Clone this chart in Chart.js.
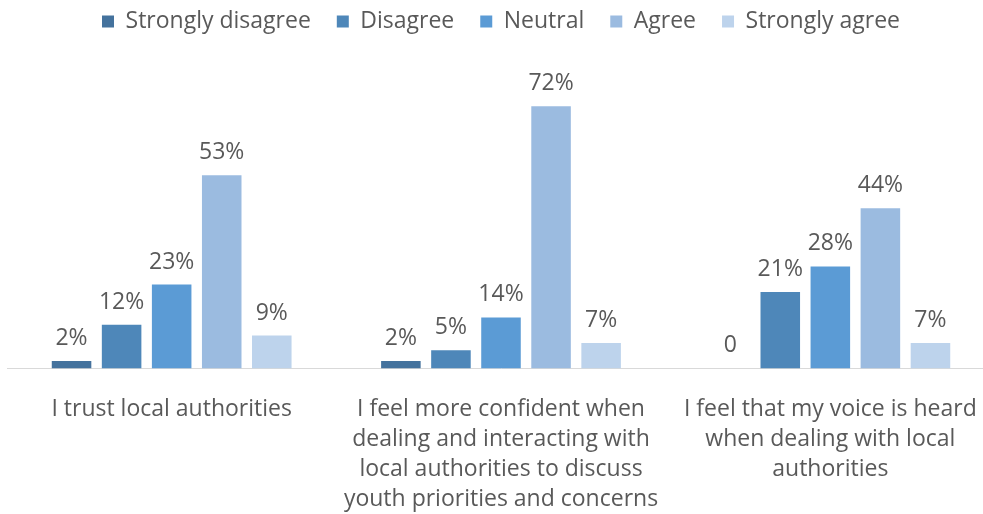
<!DOCTYPE html>
<html>
<head>
<meta charset="utf-8">
<script src="https://cdn.jsdelivr.net/npm/chart.js@4/dist/chart.umd.min.js"></script>
<style>
  html, body { margin: 0; padding: 0; background: #fff; overflow: hidden; }
  #wrap { width: 995px; height: 514px; }
</style>
</head>
<body>
<div id="wrap"><canvas id="surveyChart"></canvas></div>
<script>
// Statements (x axis categories), wrapped as in the original
const statements = [
  ["I trust local authorities"],
  ["I feel more confident when", "dealing and interacting with", "local authorities to discuss", "youth priorities and concerns"],
  ["I feel that my voice is heard", "when dealing with local", "authorities"],
];

// Answer share per statement
const stronglyDisagree = [0.02, 0.02, 0];
const disagree = [0.12, 0.05, 0.21];
const neutral = [0.23, 0.14, 0.28];
const agree = [0.53, 0.72, 0.44];
const stronglyAgree = [0.09, 0.07, 0.07];

const seriesNames = ["Strongly disagree", "Disagree", "Neutral", "Agree", "Strongly agree"];
const seriesValues = [stronglyDisagree, disagree, neutral, agree, stronglyAgree];
const seriesColors = ["#44729d", "#4e87b9", "#5b9bd5", "#9bbbe0", "#bdd3ec"];

const textColor = "#595959";
const fontFamily = "'Open Sans', 'Liberation Sans', sans-serif";

// Draw value labels above the bars (no datalabels plugin available)
const valueLabels = {
  id: "valueLabels",
  afterDatasetsDraw(chart) {
    const ctx = chart.ctx;
    ctx.save();
    ctx.font = "23px " + fontFamily;
    ctx.fillStyle = textColor;
    ctx.textAlign = "center";
    ctx.textBaseline = "alphabetic";
    chart.data.datasets.forEach((ds, i) => {
      chart.getDatasetMeta(i).data.forEach((bar, j) => {
        const v = ds.data[j];
        const txt = v === 0 ? "0" : Math.round(v * 100) + "%";
        ctx.fillText(txt, bar.x, bar.y - 16);
      });
    });
    ctx.restore();
  },
};

// Extra space under the legend
const legendMargin = {
  id: "legendMargin",
  beforeInit(chart) {
    const fit = chart.legend.fit;
    chart.legend.fit = function () {
      fit.bind(chart.legend)();
      this.height += 34;
    };
  },
};

new Chart(document.getElementById("surveyChart").getContext("2d"), {
  type: "bar",
  data: {
    labels: statements,
    datasets: seriesNames.map((name, i) => ({
      label: name,
      data: seriesValues[i],
      backgroundColor: seriesColors[i],
      categoryPercentage: 0.76,
      barPercentage: 0.79,
    })),
  },
  options: {
    responsive: true,
    maintainAspectRatio: false,
    animation: false,
    layout: { padding: { left: 7, right: 0, top: -16, bottom: 0 } },
    scales: {
      x: {
        grid: { display: false },
        border: { color: "#d9d9d9", width: 1 },
        ticks: {
          color: textColor,
          font: { family: fontFamily, size: 23, lineHeight: 1.3 },
          padding: 18,
          maxRotation: 0,
          autoSkip: false,
        },
        afterFit(scale) {
          scale.height -= 18;
        },
      },
      y: {
        display: false,
        min: 0,
        max: 0.8,
      },
    },
    plugins: {
      legend: {
        position: "top",
        labels: {
          color: textColor,
          font: { family: fontFamily, size: 23 },
          boxWidth: 12,
          boxHeight: 12,
          padding: 26,
        },
      },
      tooltip: { enabled: false },
    },
  },
  plugins: [valueLabels, legendMargin],
});
</script>
</body>
</html>
